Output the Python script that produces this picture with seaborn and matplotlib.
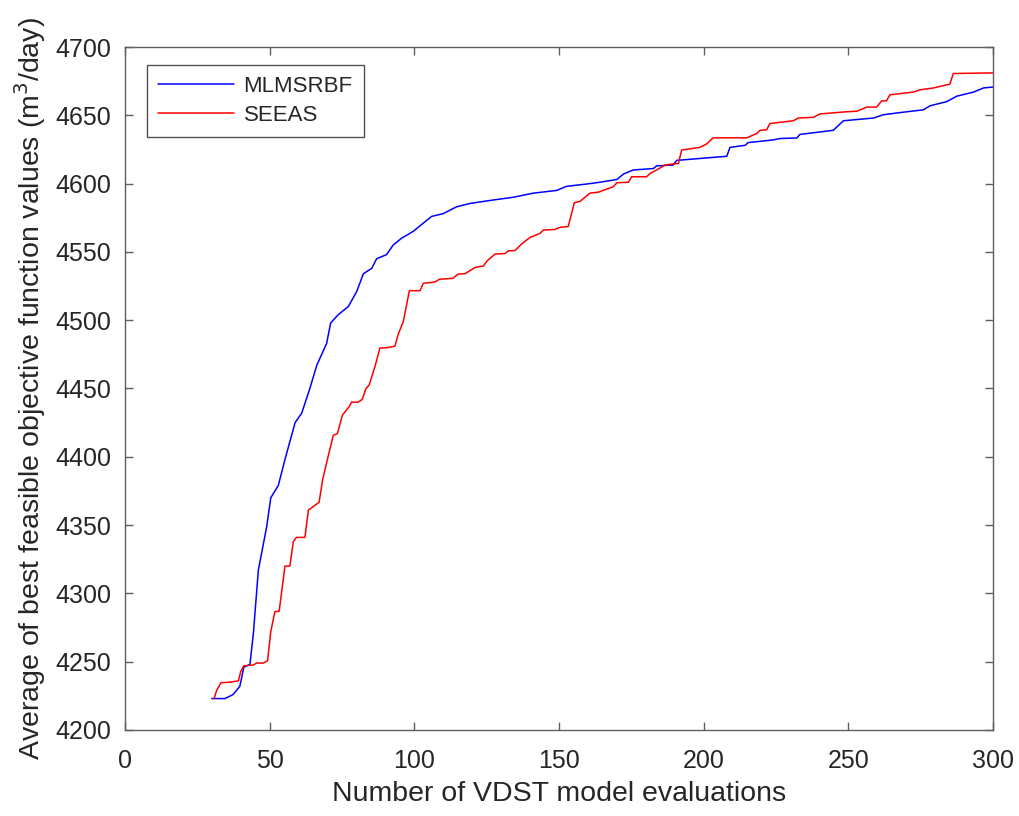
import pandas as pd
import numpy as np
import matplotlib
matplotlib.use('Agg')
import matplotlib.pyplot as plt
import seaborn as sns

# ---------------------------------------------------
# values

mlmsrbf_x = [30, 34.6, 37.4, 39.7, 41.1, 43.2, 44.4, 46.1, 49.0, 50.4, 53.0, 55.3, 58.8, 61.1,
             63.9, 66.3, 69.7, 71.1, 73.7, 77.2, 80.1, 82.4, 85.3, 87.0, 90.4, 92.7, 95.6, 99.6,
             102.5, 106, 110, 114.6, 119.3, 127.3, 134.2, 141.1, 149.2, 152.6, 159.6, 164.2, 170,
             172.3, 175.7, 182.6, 183.8, 189.5, 190.7, 208, 209.1, 214.3, 215.4, 224.1, 226.4,
             232.2, 233.3, 244.8, 248.3, 258.7, 262.1, 267.9, 275.9, 278.3, 284, 287.5, 293.3,
             296.7, 300]
mlmsrbf_y = [4223, 4223, 4226, 4232, 4246, 4248, 4271, 4317, 4349, 4370, 4379, 4398, 4425, 4432,
             4450, 4467, 4483, 4498, 4504, 4510, 4521, 4534, 4538, 4545, 4548, 4555, 4560, 4565,
             4570, 4576, 4578, 4583, 4585.5, 4588, 4590, 4593, 4595, 4598, 4599.7, 4601, 4603,
             4607, 4610, 4611, 4613, 4613.6, 4617, 4620, 4626.5, 4628, 4630, 4632, 4633,
             4633.4, 4636, 4639, 4646, 4648, 4650.4, 4652, 4654, 4657, 4660, 4664, 4667,
             4670, 4670.7]

seeas_x = [30.8, 31.7, 33.2, 36.3, 39.2, 40.0, 41.1, 44.4, 45.5, 47.8, 49.3, 50.4, 51.8, 53.3,
           55.3, 57.0, 58.2, 59.3, 62.2, 63.4, 67.1, 68.3, 70.3, 72.0, 73.4, 75.2, 77.5, 78.3,
           80.6, 82.0, 83.3, 84.4, 86.4, 88.1, 91.0, 93.3, 94.5, 96.2, 98.3, 102, 103.1, 107.2,
           108.7, 113.3, 115.2, 117.5, 121, 123.9, 125.2, 127.9, 131.4, 132.5, 134.8, 137.1,
           140, 143.4, 144.6, 148.6, 150.3, 153.2, 155.3, 157.3, 160.7, 163.6, 166.5, 168.8,
           170, 174, 175.1, 180.3, 181.5, 183.8, 186.6, 191.3, 192.4, 198.7, 201, 203.3,
           214.9, 218.3, 219.5, 221.8, 222.9, 231, 232.7, 237.9, 240.2, 249.5, 253, 256.3,
           259.8, 261.5, 263.2, 264.4, 272.5, 274.8, 279.4, 282.8, 285.1, 286.3, 299, 300]
seeas_y = [4223, 4229, 4234.6, 4235, 4236, 4242.7, 4247, 4247.6, 4249, 4249, 4250.7, 4272, 4286.6, 4287,
           4320, 4320, 4338, 4341, 4341, 4361, 4366.7, 4383, 4401, 4415.7, 4417, 4430.6, 4436.7, 4440,
           4440, 4442, 4450, 4452.6, 4466, 4479.6, 4480, 4481, 4490, 4499, 4521.6, 4521.6, 4527, 4528,
           4530, 4530.6, 4533.8, 4534, 4538.6, 4539.7, 4543.5, 4548.4, 4548.8, 4550.8, 4551, 4555.8,
           4560.6, 4563.5, 4566, 4566.4, 4568, 4568.6, 4586, 4587, 4593, 4593.7, 4596, 4597.7,
           4600.6, 4601, 4605, 4605, 4607.5, 4610, 4613.6, 4614.8, 4624.6, 4626.5, 4629, 4633.5,
           4633.5, 4636.6, 4639, 4639.4, 4644, 4646, 4648, 4648.5, 4651, 4652.6, 4653, 4656,
           4656, 4660.5, 4660.6, 4665, 4667, 4668.7, 4670, 4671.7, 4672.8, 4680.6, 4681, 4681]

series_names = ['MLMSRBF', 'SEEAS']
series_colors = ['#0000ff', '#ff0000']

# ---------------------------------------------------

sns.set_style('white')
plt.rcParams['font.family'] = ['Liberation Sans', 'DejaVu Sans']

df = pd.concat([
    pd.DataFrame({'x': mlmsrbf_x, 'y': mlmsrbf_y, 'method': series_names[0]}),
    pd.DataFrame({'x': seeas_x, 'y': seeas_y, 'method': series_names[1]}),
])

fig = plt.figure(figsize=(10.2, 8.16), dpi=100)
ax = fig.add_axes([0.1225, 0.1054, 0.851, 0.837])

sns.lineplot(data=df, x='x', y='y', hue='method', palette=series_colors, sort=False,
             estimator=None, linewidth=1.1, ax=ax)

ax.set_xlim(0, 300)
ax.set_ylim(4200, 4700)
ax.set_xticks(np.arange(0, 301, 50))
ax.set_yticks(np.arange(4200, 4701, 50))

ax.set_xlabel('Number of VDST model evaluations', fontsize=20.5, color='#262626')
ax.set_ylabel('Average of best feasible objective function values (m$^3$/day)', fontsize=20.5, color='#262626')
ax.xaxis.set_label_coords(0.5, -0.074)
ax.yaxis.set_label_coords(-0.089, 0.5)

gray = '#5f5f5f'
ax.tick_params(direction='in', length=6, width=1, colors=gray, labelcolor='#262626',
               labelsize=18, top=True, right=True, bottom=True, left=True)
ax.tick_params(axis='y', pad=10)
ax.tick_params(axis='x', pad=14)
for sp in ax.spines.values():
    sp.set_color(gray)
    sp.set_linewidth(1)

leg = ax.legend(loc='upper left', bbox_to_anchor=(0.0253, 0.9736), borderaxespad=0,
                fontsize=16, frameon=True, fancybox=False, edgecolor='#262626',
                handlelength=3.4, handletextpad=0.45, borderpad=0.5, labelspacing=0.35)
leg.get_frame().set_linewidth(1)

fig.savefig('out.png', dpi=100)
